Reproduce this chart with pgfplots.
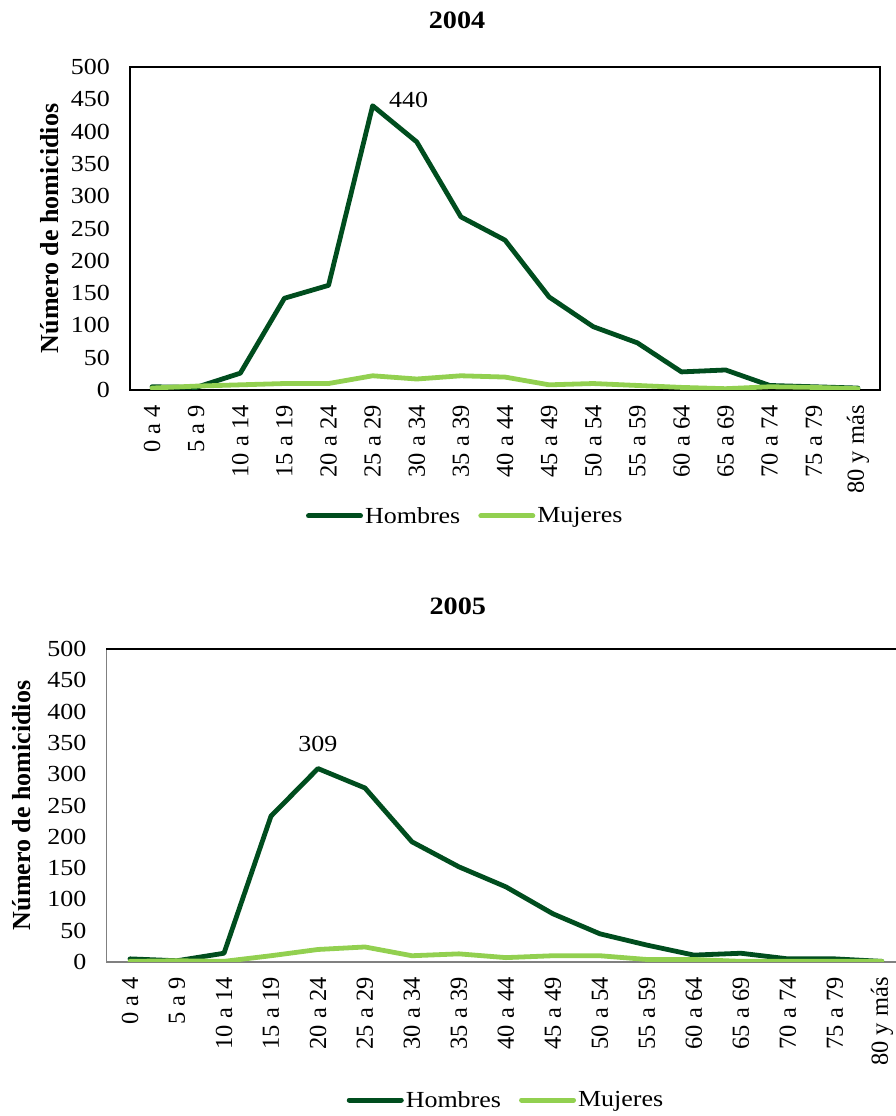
\documentclass[border=0pt]{standalone}
\usepackage{pgfplots}
\pgfplotsset{compat=1.18}
\usepackage{fontspec}
\setmainfont{Liberation Serif}[FakeStretch=1.13]
\newfontfamily\rotfont{Liberation Serif}
\definecolor{hom}{RGB}{0,77,30}
\definecolor{muj}{RGB}{146,208,80}
\pgfplotsset{
  myax/.style={
    scale only axis,
    xmin=-0.5, ymin=0, ymax=500,
    ytick={0,50,...,500},
    xtick={0,...,16},
    xticklabels={0 a 4,5 a 9,10 a 14,15 a 19,20 a 24,25 a 29,30 a 34,35 a 39,40 a 44,45 a 49,50 a 54,55 a 59,60 a 64,65 a 69,70 a 74,75 a 79,80 y más},
    major tick length=0pt,
    tick style={draw=none},
    /pgf/number format/assume math mode=true,
    yticklabel style={font=\fontsize{23}{27}\selectfont, inner sep=0pt, anchor=east, xshift=-20pt},
    xticklabel style={yshift=-15pt, rotate=90, anchor=east, inner sep=0pt, font=\rotfont\fontsize{24.5}{28}\selectfont},
    ylabel={Número de homicidios},
    title style={font=\bfseries\fontsize{25}{29}\selectfont, anchor=base},
    legend columns=2,
    legend style={draw=none, fill=none, font=\fontsize{23}{27}\selectfont, anchor=center,
      /tikz/every even column/.append style={column sep=16pt}},
    legend image code/.code={\draw[#1, line width=5pt, line cap=round] (0pt,0pt) -- (52pt,0pt);},
    every axis plot/.append style={line width=4.8pt, line join=round, line cap=round, mark=none},
  }
}
\begin{document}
\begin{tikzpicture}
% ---------- 2004 ----------
\begin{axis}[myax,
  at={(130pt,726pt)}, anchor=south west,
  width=750pt, height=323pt, xmax=16.5,
  axis line style={draw=black, line width=2.5pt},
  every axis y label/.style={at={(axis description cs:-0.107,0.5)}, rotate=90, anchor=center, font=\rotfont\bfseries\fontsize{26}{30}\selectfont},
  title={2004},
  title style={at={(axis description cs:0.436,1)}, yshift=32pt},
  legend style={at={(axis description cs:0.447,-0.390)}},
]
\addplot[hom] coordinates {(0,5) (1,4) (2,26) (3,142) (4,162) (5,440) (6,384) (7,268) (8,232) (9,144) (10,98) (11,73) (12,28) (13,31) (14,7) (15,5) (16,3)};
\addlegendentry{Hombres}
\addplot[muj] coordinates {(0,3) (1,6) (2,8) (3,10) (4,10) (5,22) (6,17) (7,22) (8,20) (9,8) (10,10) (11,7) (12,4) (13,2) (14,5) (15,4) (16,2)};
\addlegendentry{Mujeres}
\addplot[forget plot, draw=none, nodes near coords, point meta=explicit symbolic,
  every node near coord/.style={anchor=west, xshift=14pt, yshift=6pt, inner sep=0pt, font=\fontsize{23}{27}\selectfont}]
  coordinates {(5,440) [440]};
\end{axis}
% ---------- 2005 ----------
\begin{axis}[myax,
  at={(106.5pt,154pt)}, anchor=south west,
  width=789.5pt, height=313pt, xmax=16.3,
  axis x line*=bottom, axis y line*=left,
  axis line style={draw=gray, line width=1.5pt},
  every axis y label/.style={at={(axis description cs:-0.107,0.5)}, rotate=90, anchor=center, font=\rotfont\bfseries\fontsize{26}{30}\selectfont},
  title={2005},
  title style={at={(axis description cs:0.445,1)}, yshift=28pt},
  legend style={at={(axis description cs:0.506,-0.441)}},
  after end axis/.code={\draw[black, line width=2pt] (rel axis cs:0,1) -- (rel axis cs:1,1);},
]
\addplot[hom] coordinates {(0,5) (1,2) (2,14) (3,233) (4,309) (5,278) (6,192) (7,152) (8,120) (9,77) (10,45) (11,27) (12,11) (13,14) (14,5) (15,5) (16,1)};
\addlegendentry{Hombres}
\addplot[muj] coordinates {(0,1) (1,2) (2,1) (3,10) (4,20) (5,24) (6,10) (7,13) (8,7) (9,10) (10,10) (11,4) (12,4) (13,1) (14,1) (15,1) (16,1)};
\addlegendentry{Mujeres}
\addplot[forget plot, draw=none, nodes near coords, point meta=explicit symbolic,
  every node near coord/.style={anchor=south, yshift=14pt, inner sep=0pt, font=\fontsize{23}{27}\selectfont}]
  coordinates {(4,309) [309]};
\end{axis}
\pgfresetboundingbox
\path (0pt,0pt) rectangle (896pt,1116pt);
\end{tikzpicture}
\end{document}
